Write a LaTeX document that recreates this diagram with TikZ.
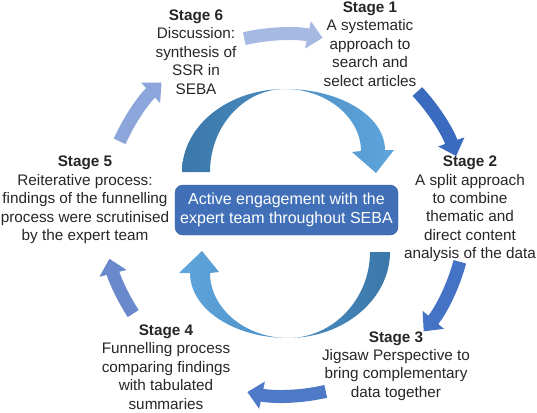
\documentclass[tikz,border=0pt]{standalone}
\usepackage{fontspec}
\setmainfont{Liberation Sans}
\usetikzlibrary{arrows.meta}

\definecolor{txtgray}{HTML}{262626}
\definecolor{boxfill}{HTML}{4170B8}
\definecolor{boxline}{HTML}{2F5A9A}
\definecolor{innerdark}{HTML}{3B77A8}
\definecolor{innerlight}{HTML}{5FA6DD}
\definecolor{ringa}{HTML}{A5B9E2}
\definecolor{ringb}{HTML}{3A6BBE}
\definecolor{ringc}{HTML}{4472C4}
\definecolor{ringd}{HTML}{4E79C7}
\definecolor{ringe}{HTML}{6A89CD}
\definecolor{ringf}{HTML}{8CA5DA}

\tikzset{
  stagetext/.style={align=center,text=txtgray,inner sep=1pt,
    font=\fontsize{15.3}{18.4}\selectfont},
  corebox/.style={draw=boxline,fill=boxfill,text=white,rounded corners=8pt,
    minimum width=223pt,minimum height=50pt,align=center,inner sep=1pt,
    font=\fontsize{16}{19}\selectfont},
  ringarrow/.style={line width=13pt,-{Triangle[width=27pt,length=15pt]}}
}

\begin{document}
\begin{tikzpicture}[x=1pt,y=-1pt]
\useasboundingbox (0,0) rectangle (537,412);
\coordinate (c) at (285,215);

\draw[ringarrow,ringa] ([shift={(-103:181)}]c) arc[start angle=-103,end angle=-78,radius=181];
\draw[ringarrow,ringb] ([shift={(-43:181)}]c) arc[start angle=-43,end angle=-19,radius=181];
\draw[ringarrow,ringc] ([shift={(15:181)}]c) arc[start angle=15,end angle=40,radius=181];
\draw[ringarrow,ringd] ([shift={(77:181)}]c) arc[start angle=77,end angle=102,radius=181];
\draw[ringarrow,ringe] ([shift={(147:181)}]c) arc[start angle=147,end angle=166,radius=181];
\draw[ringarrow,ringf] ([shift={(-156:181)}]c) arc[start angle=-156,end angle=-133,radius=181];

\shade[left color=innerdark,right color=innerlight]
  (182,172) .. controls (182,126) and (228,89) .. (285,89)
  .. controls (340,89) and (385,116) .. (385,150)
  -- (394,150) -- (376,173) -- (352,152) -- (361,151)
  .. controls (361,118) and (327,89) .. (285,89)
  .. controls (244,89) and (210,126) .. (210,172) -- cycle;
\shade[left color=innerlight,right color=innerdark]
  (390,252) .. controls (390,299) and (344,338) .. (288,338)
  .. controls (234,338) and (190,309) .. (190,273)
  -- (179,273) -- (202,251) -- (219,272) -- (210,273)
  .. controls (210,308) and (245,338) .. (288,338)
  .. controls (333,338) and (370,299) .. (370,252) -- cycle;

\node[corebox] (core) at (286.5,210) {Active engagement with the\\expert team throughout SEBA};

\node[stagetext] (s1) at (370,44) {\textbf{Stage 1}\\A systematic\\approach to\\search and\\select articles};
\node[stagetext] (s2) at (470,209) {\textbf{Stage 2}\\A split approach\\to combine\\thematic and\\direct content\\analysis of the data};
\node[stagetext] (s3) at (396,366) {\textbf{Stage 3}\\Jigsaw Perspective to\\bring complementary\\data together};
\node[stagetext] (s4) at (166,367) {\textbf{Stage 4}\\Funnelling process\\comparing findings\\with tabulated\\summaries};
\node[stagetext] (s5) at (85,200) {\textbf{Stage 5}\\Reiterative process:\\findings of the funnelling\\process were scrutinised\\by the expert team};
\node[stagetext] (s6) at (196,52) {\textbf{Stage 6}\\Discussion:\\synthesis of\\SSR in\\SEBA};
\end{tikzpicture}
\end{document}
